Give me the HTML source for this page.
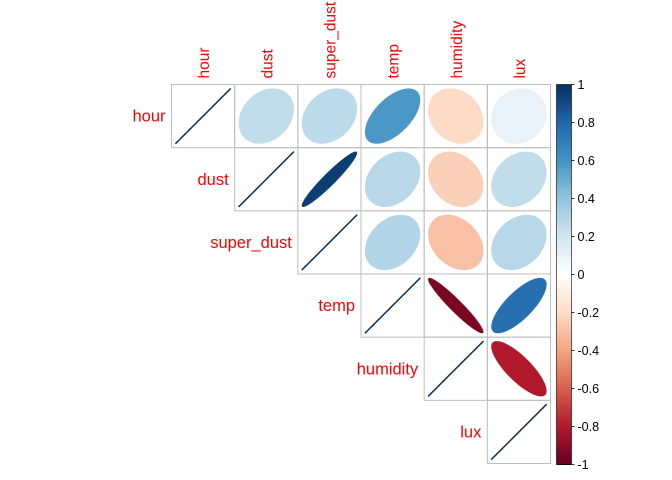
<!DOCTYPE html>
<html><head><meta charset="utf-8"><style>
body{margin:0;background:#fff}
svg{display:block;font-family:"Liberation Sans",sans-serif}
</style></head><body>
<svg id="chart" width="672" height="480"></svg>
<script>
const vars = ["hour","dust","super_dust","temp","humidity","lux"];
const corrRows = [
 [1, 0.25, 0.27, 0.58, -0.2, 0.1],
 [0.25, 1, 0.95, 0.28, -0.24, 0.25],
 [0.27, 0.95, 1, 0.3, -0.3, 0.28],
 [0.58, 0.28, 0.3, 1, -0.95, 0.76],
 [-0.2, -0.24, -0.3, -0.95, 1, -0.8],
 [0.1, 0.25, 0.28, 0.76, -0.8, 1]
];
const barTicks = [1,0.8,0.6,0.4,0.2,0,-0.2,-0.4,-0.6,-0.8,-1];
const palette = ["#67001F","#B2182B","#D6604D","#F4A582","#FDDBC7","#FFFFFF","#D1E5F0","#92C5DE","#4393C3","#2166AC","#053061"];

const NS="http://www.w3.org/2000/svg";
const svg=document.getElementById('chart');
const X0=171.5, Y0=84.5, C=63.17, S=27.7;
const BX=556.5, BW=15, BT=84.5, BB=464.5;
function mk(t,a,p){const e=document.createElementNS(NS,t);for(const k in a)e.setAttribute(k,a[k]);(p||svg).appendChild(e);return e;}
function hex(h){return [1,3,5].map(i=>parseInt(h.substr(i,2),16));}
function color(r){const p=(r+1)/2*(palette.length-1);const i=Math.min(Math.floor(p),palette.length-2);const f=p-i;const a=hex(palette[i]),b=hex(palette[i+1]);return `rgb(${a.map((v,k)=>Math.round(v+(b[k]-v)*f)).join(',')})`;}
function yBar(v){return BT+(1-v)/2*(BB-BT);}

const n=vars.length;
for(let i=0;i<n;i++){
  for(let j=i;j<n;j++){
    const x=X0+j*C,y=Y0+i*C;
    const cell=mk('rect',{x:x,y:y,width:C,height:C,fill:'none',stroke:'#bebebe','stroke-width':1});
    
    
    const r=corrRows[i][j];const d=Math.acos(Math.max(-1,Math.min(1,r)));
    const cx=x+C/2,cy=y+C/2;let pts=[];
    for(let k=0;k<=100;k++){const t=k/100*2*Math.PI;pts.push((cx+S*Math.cos(t+d/2)).toFixed(2)+','+(cy-S*Math.cos(t-d/2)).toFixed(2));}
    const el=mk('polygon',{points:pts.join(' '),fill:color(r),stroke:color(r),'stroke-width':r>0.99?1.5:0});
    
    
  }
  const rl=mk('text',{x:X0+i*C-6,y:Y0+i*C+C/2+5.5,'text-anchor':'end',fill:'#ff0000','font-size':16.5});
  rl.textContent=vars[i];
  
  
  const cxl=X0+i*C+C/2+6;
  const cl=mk('text',{x:cxl,y:Y0-6,transform:`rotate(-90 ${cxl} ${Y0-6})`,fill:'#ff0000','font-size':15.5});
  cl.textContent=vars[i];
  
  
}
// colorbar
const g=mk('g',{});


for(let k=0;k<200;k++){const v1=1-k/100,v2=1-(k+1)/100;mk('rect',{x:BX,y:yBar(v1),width:BW,height:yBar(v2)-yBar(v1)+0.5,fill:color((v1+v2)/2)},g);}
mk('rect',{x:BX,y:BT,width:BW,height:BB-BT,fill:'none',stroke:'#000','stroke-width':0.6},g);
barTicks.forEach(v=>{
  const y=yBar(v);
  mk('line',{x1:BX+BW,x2:BX+BW+3,y1:y,y2:y,stroke:'#000','stroke-width':0.8},g);
  const t=mk('text',{x:BX+BW+6,y:y+4.5,'font-size':12.5,fill:'#000'},g);
  t.textContent=v;
  
  
});
</script>
</body></html>
